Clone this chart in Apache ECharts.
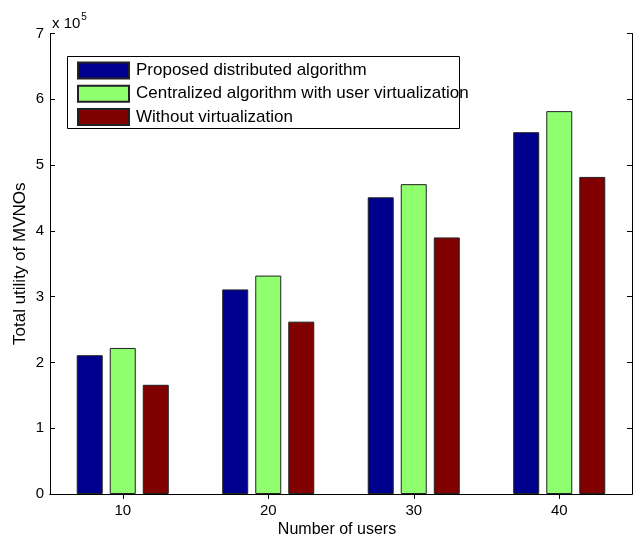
<!DOCTYPE html>
<html>
<head>
<meta charset="utf-8">
<script src="https://cdn.jsdelivr.net/npm/echarts@6/dist/echarts.min.js"></script>
<style>
html,body{margin:0;padding:0;background:#fff;}
#c{width:633px;height:538px;}
</style>
</head>
<body>
<div id="c"></div>
<script>
// values in units of 10^5
const categories = ['10', '20', '30', '40'];
const seriesNames = ['Proposed distributed algorithm', 'Centralized algorithm with user virtualization', 'Without virtualization'];
const distributed = [2.11, 3.11, 4.51, 5.50];
const centralized = [2.22, 3.32, 4.71, 5.82];
const withoutVirt = [1.66, 2.62, 3.90, 4.82];
const yTicks = [0, 1, 2, 3, 4, 5, 6, 7];
const xName = 'Number of users';
const yName = 'Total utility of MVNOs';

const FONT = '"Liberation Sans", Arial, sans-serif';
const colors = ['#00008F', '#8FFF70', '#800000'];
const chart = echarts.init(document.getElementById('c'), null, {renderer: 'canvas'});

const mk = (name, data, i) => ({
  name: name, type: 'bar', data: data,
  barWidth: 26, barGap: '27%',
  itemStyle: {color: colors[i], borderColor: '#222', borderWidth: 1},
  emphasis: {disabled: true}, animation: false
});

chart.setOption({
  animation: false,
  textStyle: {fontFamily: FONT},
  grid: {left: 50, right: 1, top: 33.5, bottom: 44, containLabel: false, outerBoundsMode: 'none'},
  legend: {
    left: 67, top: 56, orient: 'vertical', icon: 'rect',
    padding: [5.5, 10, 6, 10], itemWidth: 51, itemHeight: 16, itemGap: 5.3,
    textStyle: {fontFamily: FONT, fontSize: 17, color: '#000', padding: [0, 0, 0, 2]},
    data: seriesNames, selectedMode: false
  },
  graphic: [
    {type: 'rect', shape: {x: 67.5, y: 56.5, width: 392, height: 72}, style: {fill: 'rgba(0,0,0,0)', stroke: '#000', lineWidth: 1}, z: 100},
    {type: 'text', left: 52, top: 12, style: {
      text: '{a|x 10}{b|5}', rich: {
        a: {fontFamily: FONT, fontSize: 15, color: '#000', verticalAlign: 'bottom'},
        b: {fontFamily: FONT, fontSize: 10, color: '#000', verticalAlign: 'top', padding: [0, 0, 9, 1]}
      }}}
  ],
  xAxis: [{
    type: 'category', data: categories, position: 'bottom',
    name: xName, nameLocation: 'middle', nameGap: 28, nameMoveOverlap: false,
    nameTextStyle: {fontFamily: FONT, fontSize: 16, color: '#000', padding: [0, 8, 0, 0]},
    axisLine: {lineStyle: {color: '#000', width: 1}},
    axisTick: {show: false},
    axisLabel: {fontFamily: FONT, fontSize: 15, color: '#000', margin: 9}
  }, {
    type: 'category', data: categories, position: 'top',
    axisLine: {show: true, lineStyle: {color: '#000', width: 1}},
    axisTick: {show: true, inside: true, alignWithLabel: true, length: 5, lineStyle: {color: '#000'}},
    axisLabel: {show: false}
  }],
  yAxis: [{
    type: 'value', min: 0, max: 7, interval: 1, position: 'left',
    name: yName, nameLocation: 'middle', nameGap: 21, nameMoveOverlap: false,
    nameTextStyle: {fontFamily: FONT, fontSize: 17, color: '#000'},
    axisLine: {show: true, lineStyle: {color: '#000', width: 1}},
    axisTick: {show: true, inside: true, length: 5, lineStyle: {color: '#000'}},
    axisLabel: {fontFamily: FONT, fontSize: 15, color: '#000', margin: 6,
      formatter: v => yTicks.includes(v) ? String(v) : ''},
    splitLine: {show: false}
  }, {
    type: 'value', min: 0, max: 7, interval: 1, position: 'right',
    axisLine: {show: true, lineStyle: {color: '#000', width: 1}},
    axisTick: {show: true, inside: true, length: 5, lineStyle: {color: '#000'}},
    axisLabel: {show: false}, splitLine: {show: false}
  }],
  series: [mk(seriesNames[0], distributed, 0), mk(seriesNames[1], centralized, 1), mk(seriesNames[2], withoutVirt, 2)]
});
</script>
</body>
</html>
